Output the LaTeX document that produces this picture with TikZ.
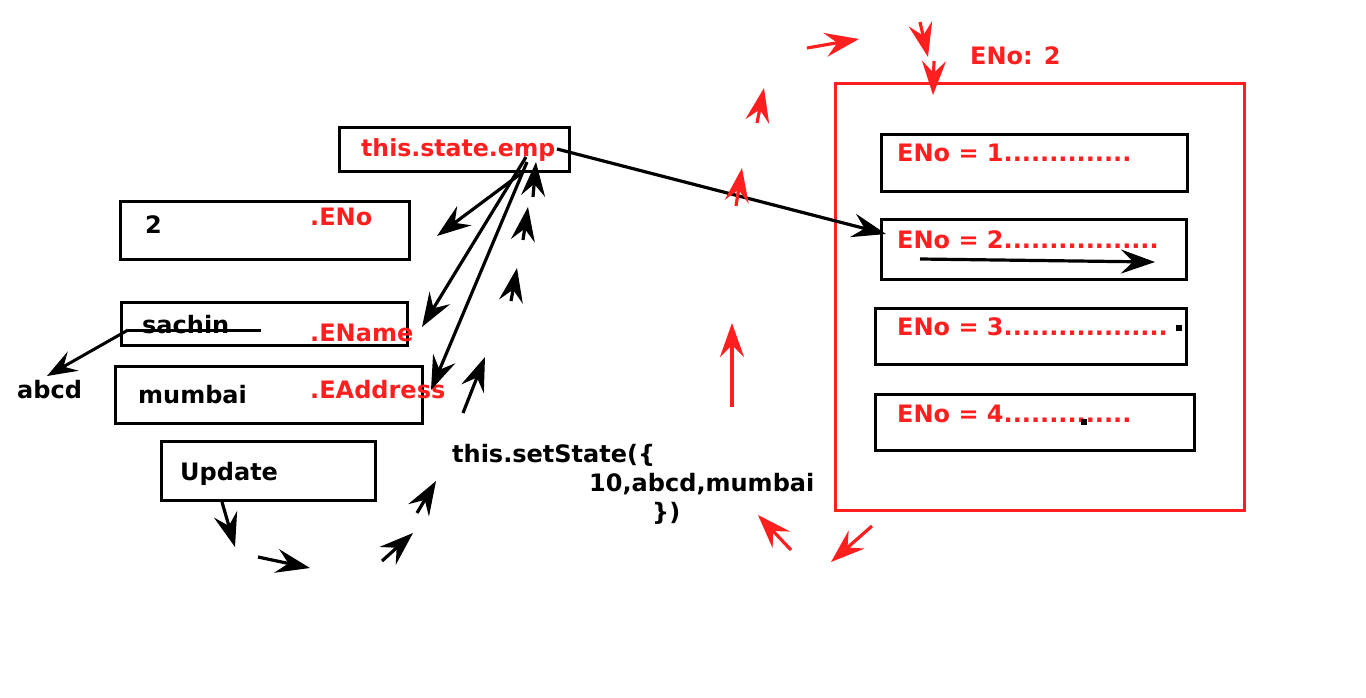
\documentclass[tikz,border=0pt]{standalone}
\usepackage{fontspec}
\setmainfont{DejaVu Sans}
\usetikzlibrary{arrows.meta}
\definecolor{myred}{HTML}{FF1F1F}
\tikzset{
  box/.style={draw=black, line width=3pt},
  redbox/.style={draw=myred, line width=3pt},
  lbl/.style={anchor=base west, inner sep=0pt, font=\fontsize{24}{28}\selectfont\bfseries},
  redlbl/.style={lbl, text=myred},
  arr/.style={line width=3.2pt, -{Stealth[length=34pt,width=24pt,inset=12pt]}},
  barr/.style={arr, draw=black},
  rarr/.style={arr, draw=myred},
}
\begin{document}
\begin{tikzpicture}[x=1pt,y=-1pt]
\useasboundingbox (0,0) rectangle (1366,697);
% left boxes
\draw[box] (339,127) rectangle (569,171);
\node[redlbl, font=\fontsize{23.6}{28}\selectfont\bfseries] (emp) at (361,156) {this.state.emp};
\coordinate (empR) at (557,149);
\coordinate (empA) at (523,172);
\coordinate (empB) at (526,157);
\coordinate (empC) at (527,162);

\draw[box] (120,201) rectangle (409,259);
\node[lbl] (v2) at (145,233) {2};
\node[redlbl] (eno) at (310,225) {.ENo};

\draw[box] (121,302) rectangle (407,345);
\node[lbl] (sachin) at (142,333) {sachin};
\node[redlbl] (ename) at (310,341) {.EName};
\coordinate (strikeL) at (128,330);
\coordinate (strikeR) at (261,330);
\draw[line width=3pt] (strikeL) -- (strikeR);

\draw[box] (115,366) rectangle (422,423);
\node[lbl] (mumbai) at (138,403) {mumbai};
\node[redlbl] (eaddr) at (310,398) {.EAddress};

\node[lbl] (abcd) at (17,398) {abcd};
\coordinate (abcdT) at (47,376);
\draw[line width=3pt, -{Stealth[length=30pt,width=22pt,inset=11pt]}] (strikeL) -- (abcdT);

\draw[box] (161,441) rectangle (375,500);
\node[lbl] (update) at (180,480) {Update};

\node[lbl] (set1) at (452,462) {this.setState(\{};
\node[lbl] (set2) at (589,491) {10,abcd,mumbai};
\node[lbl] (set3) at (652,520) {\})};

% red outer box
\draw[redbox] (835,83) rectangle (1244,510);
\node[redlbl] (enotop) at (970,64) {ENo: 2};

\draw[box] (881,134) rectangle (1187,191);
\node[redlbl] (e1) at (897,161) {ENo = 1..............};
\draw[box] (881,219) rectangle (1186,279);
\node[redlbl] (e2) at (897,248) {ENo = 2.................};
\draw[box] (875,308) rectangle (1186,364);
\node[redlbl] (e3) at (897,335) {ENo = 3..................};
\draw[box] (875,394) rectangle (1194,450);
\node[redlbl] (e4) at (897,422) {ENo = 4..............};
\fill[black] (1176,325) rectangle (1182,331);
\fill[black] (1081,419) rectangle (1087,425);

% main connectors
\coordinate (e2in) at (886,234);
\draw[barr] (empR) -- (e2in);
\coordinate (e2a) at (920,259);
\coordinate (e2b) at (1155,262);
\draw[barr] (e2a) -- (e2b);
\coordinate (t1) at (437,236);
\coordinate (t2) at (422,327);
\coordinate (t3) at (431,390);
\draw[barr] (empA) -- (t1);
\draw[barr] (empB) -- (t2);
\draw[barr] (empC) -- (t3);

% black flow arrows
\coordinate (u0) at (222,502); \coordinate (u1) at (235,547);
\draw[barr] (u0) -- (u1);
\coordinate (k0) at (258,557); \coordinate (k1) at (310,568);
\draw[barr] (k0) -- (k1);
\coordinate (m0) at (382,561); \coordinate (m1) at (413,533);
\draw[barr] (m0) -- (m1);
\coordinate (n0) at (417,513); \coordinate (n1) at (436,481);
\draw[barr] (n0) -- (n1);
\coordinate (p0) at (463,413); \coordinate (p1) at (485,357);
\draw[barr] (p0) -- (p1);
\coordinate (q0) at (511,301); \coordinate (q1) at (517,268);
\draw[barr] (q0) -- (q1);
\coordinate (r0) at (523,240); \coordinate (r1) at (528,207);
\draw[barr] (r0) -- (r1);
\coordinate (s0) at (533,197); \coordinate (s1) at (536,162);
\draw[barr] (s0) -- (s1);

% red flow arrows
\coordinate (a0) at (791,550); \coordinate (a1) at (758,515);
\draw[rarr] (a0) -- (a1);
\coordinate (b0) at (872,526); \coordinate (b1) at (831,562);
\draw[rarr] (b0) -- (b1);
\coordinate (c0) at (732,407); \coordinate (c1) at (732,323);
\draw[rarr] (c0) -- (c1);
\coordinate (d0) at (736,206); \coordinate (d1) at (742,168);
\draw[rarr] (d0) -- (d1);
\coordinate (f0) at (757,123); \coordinate (f1) at (764,88);
\draw[rarr] (f0) -- (f1);
\coordinate (g0) at (807,48); \coordinate (g1) at (859,39);
\draw[rarr] (g0) -- (g1);
\coordinate (h0) at (920,22); \coordinate (h1) at (928,57);
\draw[rarr] (h0) -- (h1);
\coordinate (i0) at (934,61); \coordinate (i1) at (933,95);
\draw[rarr] (i0) -- (i1);
\end{tikzpicture}
\end{document}
